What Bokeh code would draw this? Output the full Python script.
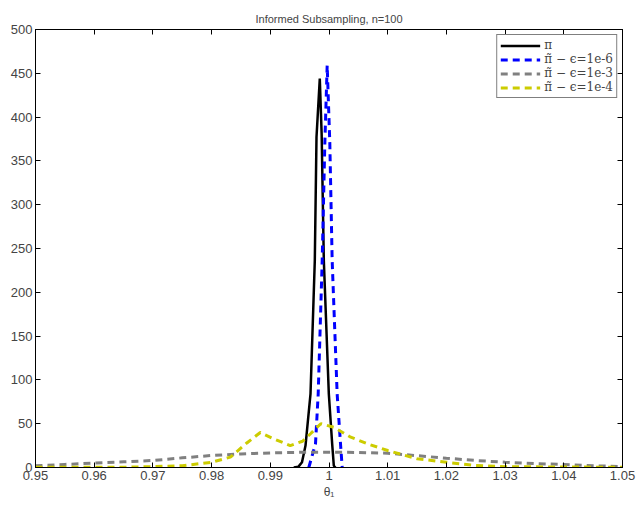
from bokeh.plotting import figure
from bokeh.models import Range1d, FixedTicker, LinearAxis, CustomJSTickFormatter
from bokeh.embed import file_html
from bokeh.resources import INLINE

title = "Informed Subsampling, n=100"
x_ticks = [0.95, 0.96, 0.97, 0.98, 0.99, 1.0, 1.01, 1.02, 1.03, 1.04, 1.05]
y_ticks = [0, 50, 100, 150, 200, 250, 300, 350, 400, 450, 500]

pi_x = [0.9940, 0.9948, 0.9954, 0.9960, 0.99685, 0.99758, 0.99787, 0.99843, 0.99875, 0.99912, 0.99997, 1.00054, 1.00082, 1.0011]
pi_y = [0, 1, 6, 25, 84, 236, 377, 444, 380, 236, 84, 27, 2, 0]

e6_x = [0.99656, 0.9977, 0.99816, 0.99884, 0.99929, 0.99969, 1.00014, 1.00054, 1.00139, 1.00196, 1.00225]
e6_y = [0, 27, 84, 236, 370, 459, 370, 236, 84, 27, 0]

e3_x = [0.95, 0.955, 0.96, 0.965, 0.97, 0.975, 0.98, 0.985, 0.99, 0.995, 1.0, 1.005, 1.01, 1.015, 1.02, 1.025, 1.03, 1.035, 1.04, 1.045, 1.05]
e3_y = [2, 3.5, 5, 6.5, 8, 11, 13.7, 15.5, 16.7, 17.3, 17.5, 17.2, 16.3, 13.5, 10.6, 8, 6, 4.5, 3.4, 2, 1]

e4_x = [0.95, 0.955, 0.96, 0.965, 0.97, 0.975, 0.98, 0.9832, 0.986, 0.9883, 0.9905, 0.9934, 0.9955, 0.99685, 0.9986, 1.0008, 1.0037, 1.007, 1.01, 1.015, 1.02, 1.025, 1.03, 1.04, 1.05]
e4_y = [0.3, 0.2, 0.2, 0.3, 1, 2, 6, 11.8, 28, 40, 33, 25, 30, 38.5, 50, 46, 34.6, 26, 19.4, 10, 6, 2.3, 1, 0.5, 0.3]

labels = ["π", "π̃ − ϵ=1e-6", "π̃ − ϵ=1e-3", "π̃ − ϵ=1e-4"]

p = figure(width=637, height=505, output_backend="svg", toolbar_location=None,
           x_range=Range1d(0.95, 1.05), y_range=Range1d(0, 500),
           min_border_left=35, min_border_right=15, min_border_top=29, min_border_bottom=38)
p.title.text = title
p.title.align = "center"
p.title.text_font = "Liberation Sans"
p.title.text_font_size = "11px"
p.title.text_font_style = "normal"

p.grid.visible = False
p.outline_line_color = "black"
p.outline_line_width = 1

fmt = CustomJSTickFormatter(code="var s = tick.toFixed(2); if (s.indexOf('.') >= 0) { s = s.replace(/0+$/, '').replace(/\\.$/, ''); } return s;")
blank = CustomJSTickFormatter(code="return '';")

for ax in p.xaxis:
    ax.ticker = FixedTicker(ticks=x_ticks)
    ax.formatter = fmt
    ax.axis_label = "θ₁"
for ax in p.yaxis:
    ax.ticker = FixedTicker(ticks=y_ticks)

for ax in p.xaxis + p.yaxis:
    ax.major_tick_in = 5
    ax.major_tick_out = 0
    ax.minor_tick_in = 0
    ax.minor_tick_out = 0
    ax.major_label_text_font = "Liberation Sans"
    ax.major_label_text_font_size = "13px"
    ax.axis_label_text_font = "Liberation Sans"
    ax.axis_label_text_font_size = "12px"
    ax.axis_label_text_font_style = "normal"
    ax.axis_label_standoff = 2
    ax.major_label_standoff = 3

top = LinearAxis(ticker=FixedTicker(ticks=x_ticks), formatter=blank,
                 major_tick_in=5, major_tick_out=0, minor_tick_in=0, minor_tick_out=0,
                 major_label_standoff=0)
right = LinearAxis(ticker=FixedTicker(ticks=y_ticks), formatter=blank,
                   major_tick_in=5, major_tick_out=0, minor_tick_in=0, minor_tick_out=0,
                   major_label_standoff=0)
p.add_layout(top, "above")
p.add_layout(right, "right")

p.line(pi_x, pi_y, color="black", line_width=2.5, legend_label=labels[0])
p.line(e6_x, e6_y, color="#0000ff", line_width=3, line_dash="7 5", legend_label=labels[1])
p.line(e3_x, e3_y, color="#808080", line_width=3, line_dash="7 5", legend_label=labels[2])
p.line(e4_x, e4_y, color="#cccc00", line_width=3, line_dash="7 5", legend_label=labels[3])

lg = p.legend[0]
lg.location = "top_right"
lg.margin = 5
lg.padding = 3
lg.spacing = 0
lg.border_line_color = "black"
lg.border_line_width = 1
lg.label_text_font = "DejaVu Serif"
lg.label_text_font_size = "12px"
lg.glyph_width = 40
lg.glyph_height = 9
lg.label_height = 9
lg.label_standoff = 4
lg.background_fill_alpha = 1

open("out.html", "w").write(file_html(p, INLINE))
